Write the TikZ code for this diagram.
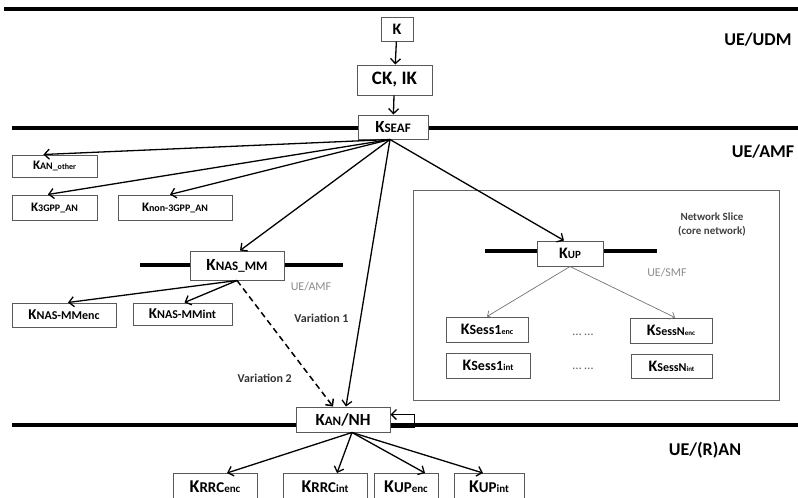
\documentclass[tikz,border=0pt]{standalone}
\usepackage{fontspec}
\setmainfont{Carlito}
\usetikzlibrary{arrows.meta, positioning}

\newcommand{\fs}[1]{\fontsize{#1}{#1}\selectfont}

\begin{document}
\begin{tikzpicture}[x=1pt, y=-1pt, font=\bfseries,
    keybox/.style={draw=black!65, line width=1pt, fill=white, inner sep=0pt},
    layer/.style={line width=3.6pt},
    arr/.style={-{Straight Barb[length=5pt,width=10pt]}, line width=1.3pt},
    thinarr/.style={-{Straight Barb[length=4pt,width=8pt]}, draw=black!55, line width=0.7pt},
    zone/.style={font=\bfseries\fs{18}},
    note/.style={font=\bfseries\fs{12}, text=black!80}]
    \useasboundingbox (0,0) rectangle (798,498);

    % separators
    \draw[layer] (4,9) -- (798,9);
    \draw[layer] (12,128) -- (798,128);
    \draw[layer] (12,425) -- (798,425);
    \draw[layer] (140,265) -- (343,265);
    \draw[black!60, line width=1pt] (413,190) rectangle (779,400);
    \draw[layer] (485,251) -- (657,251);

    % UE/UDM
    \node[keybox, minimum width=32, minimum height=24] (k) at (397,29) {\fs{16}K};
    \node[keybox, minimum width=75, minimum height=30] (ckik) at (394.5,80) {\fs{19}CK, IK};
    \node[keybox, minimum width=70, minimum height=24] (kseaf) at (393,127) {\fs{17}K{\fs{13}SEAF}};

    % UE/AMF
    \node[keybox, minimum width=85, minimum height=22] (kanother) at (54.5,166) {\fs{13}K{\fs{10}AN\_}{\fs{8}other}};
    \node[keybox, minimum width=85, minimum height=25] (kgpp) at (54.5,207.5) {\fs{13}K{\fs{10}3GPP\_AN}};
    \node[keybox, minimum width=114, minimum height=25] (knongpp) at (175,207.5) {\fs{13}K{\fs{10}non-3GPP\_AN}};
    \node[keybox, minimum width=94, minimum height=29] (knasmm) at (237,265.5) {\fs{17}K{\fs{13}NAS\_MM}};
    \node[keybox, minimum width=104, minimum height=24] (knasenc) at (64,315) {\fs{15}K{\fs{12}NAS-MMenc}};
    \node[keybox, minimum width=99, minimum height=22] (knasint) at (182.5,314) {\fs{15}K{\fs{12}NAS-MMint}};

    % network slice
    \node[keybox, minimum width=66, minimum height=25] (kup) at (570,253.5) {\fs{16}K{\fs{11}UP}};
    \node[keybox, minimum width=82, minimum height=25] (ks1enc) at (487,329.5) {\fs{16}K{\fs{14}Sess1}{\fs{8}enc}};
    \node[keybox, minimum width=82, minimum height=25] (ksnenc) at (671,330.5) {\fs{16}K{\fs{12}SessN}{\fs{7}enc}};
    \node[keybox, minimum width=84, minimum height=25] (ks1int) at (488,365.5) {\fs{16}K{\fs{14}Sess1}{\fs{9}int}};
    \node[keybox, minimum width=81, minimum height=24] (ksnint) at (671.5,366) {\fs{16}K{\fs{12}SessN}{\fs{7}int}};
    \node[font=\fs{13}, text=black!60] (dots1) at (583,335) {\dots\ \dots};
    \node[font=\fs{13}, text=black!60] (dots2) at (583,369) {\dots\ \dots};

    % UE/(R)AN
    \node[keybox, minimum width=94, minimum height=25] (kannh) at (343,419.5) {\fs{17}K{\fs{13}AN}/NH};
    \node[keybox, minimum width=84, minimum height=27] (krrcenc) at (215,487) {\fs{18}K{\fs{15}RRC}{\fs{11}enc}};
    \node[keybox, minimum width=84, minimum height=27] (krrcint) at (325,487) {\fs{18}K{\fs{15}RRC}{\fs{11}int}};
    \node[keybox, minimum width=64, minimum height=27] (kupenc) at (406,487) {\fs{18}K{\fs{15}UP}{\fs{11}enc}};
    \node[keybox, minimum width=70, minimum height=27] (kupint) at (489,487) {\fs{18}K{\fs{15}UP}{\fs{11}int}};

    % labels
    \node[zone] (udm) at (758,40) {UE/UDM};
    \node[zone] (amf) at (763,152) {UE/AMF};
    \node[zone] (ran) at (705,450) {UE/(R)AN};
    \node[font=\fs{12}, text=black!45] (amf2) at (311,287) {UE/AMF};
    \node[font=\fs{12}, text=black!45] (smf) at (667,273) {UE/SMF};
    \node[font=\bfseries\fs{11}, text=black!75, align=center] (slice) at (712,224) {Network Slice\\[3pt](core network)};

    \draw[arr] (k) -- (ckik);
    \draw[arr] (ckik) -- (kseaf);
    \draw[arr] ([xshift=-3pt]kseaf.south) -- (kanother.134);
    \draw[arr] ([xshift=-3pt]kseaf.south) -- (kgpp.117);
    \draw[arr] ([xshift=-3pt]kseaf.south) -- ([xshift=-5pt]knongpp.north);
    \draw[arr] ([xshift=-3pt]kseaf.south) -- ([xshift=3pt]knasmm.north);
    \draw[arr] ([xshift=-3pt]kseaf.south) -- ([xshift=-6pt]kup.north);
    \draw[arr] ([xshift=-3pt]kseaf.south) -- node[note, pos=0.67, left=8pt] {Variation 1} ([xshift=3pt]kannh.north);
    \draw[arr, dash pattern=on 6pt off 4pt, line width=1.5pt] (knasmm.south) -- node[note, pos=0.78, left=16pt] {Variation 2} ([xshift=-10pt]kannh.north);
    \draw[arr] (knasmm.south) -- ([xshift=4pt]knasenc.north);
    \draw[arr] (knasmm.south) -- ([xshift=2pt]knasint.north);
    \draw[thinarr] (kup.south) -- (ks1enc.north);
    \draw[thinarr] (kup.south) -- ([xshift=4pt]ksnenc.north);
    \draw[arr] ([yshift=-7.5pt]kannh.east) -- ++(24,0) |- ([yshift=5pt]kannh.east);
    \draw[arr] ([xshift=9pt]kannh.south) -- ([xshift=12pt]krrcenc.north);
    \draw[arr] ([xshift=9pt]kannh.south) -- ([xshift=12pt]krrcint.north);
    \draw[arr] ([xshift=9pt]kannh.south) -- ([xshift=19pt]kupenc.north);
    \draw[arr] ([xshift=9pt]kannh.south) -- ([xshift=-6pt]kupint.north);
\end{tikzpicture}
\end{document}
